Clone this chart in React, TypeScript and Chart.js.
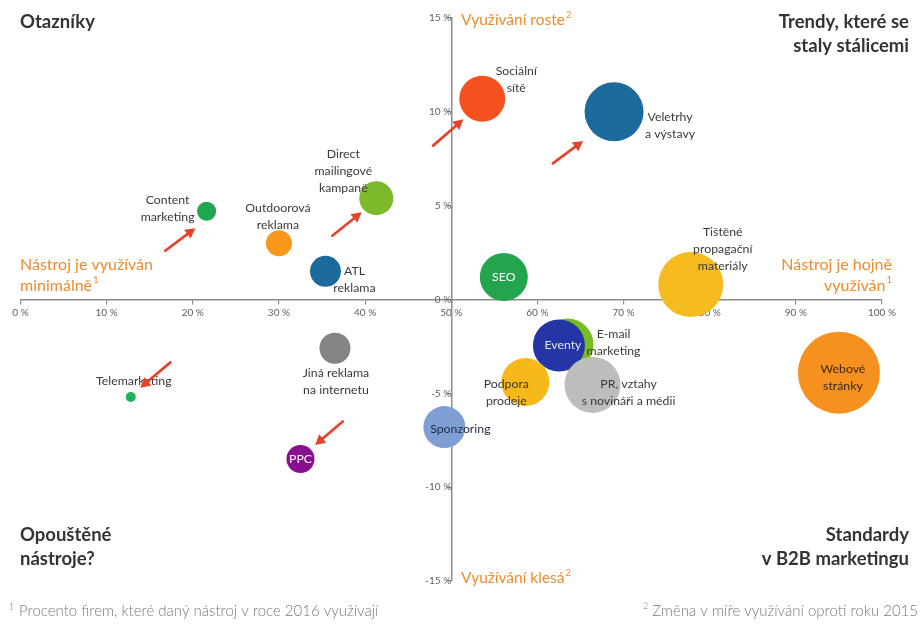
import React, { useEffect, useRef } from 'react';
import { Chart, registerables } from 'chart.js';

Chart.register(...registerables);

// ---- data ----
const toolNames = [
  'Sociální\nsítě',
  'Veletrhy\na výstavy',
  'SEO',
  'Tištěné\npropagační\nmateriály',
  'Content\nmarketing',
  'Outdoorová\nreklama',
  'Direct\nmailingové\nkampaně',
  'ATL\nreklama',
  'Jiná reklama\nna internetu',
  'Telemarketing',
  'PPC',
  'Sponzoring',
  'E-mail\nmarketing',
  'Eventy',
  'Podpora\nprodeje',
  'PR, vztahy\ns novináři a médii',
  'Webové\nstránky',
];
// % of firms using the tool in 2016
const usage2016 = [53.6, 68.9, 56.1, 77.8, 21.6, 30.0, 41.3, 35.4, 36.5, 12.8, 32.5, 49.2, 63.5, 62.5, 58.6, 66.4, 95.0];
// change vs. 2015 (percentage points)
const changeVs2015 = [10.7, 10.0, 1.2, 0.8, 4.7, 3.0, 5.4, 1.5, -2.6, -5.2, -8.5, -6.8, -2.4, -2.45, -4.4, -4.55, -3.9];
// bubble size
const bubbleSize = [23, 29.5, 24, 32.5, 9.5, 13, 17, 15.5, 15.5, 5, 14, 21, 26, 26, 24, 28, 41];

const bubbleColors = [
  '#f4511e', '#1c6a9c', '#25a44e', '#f6bb1f', '#1fa84f', '#f7981d', '#7dba2b', '#1c6a9c',
  '#848484', '#1fb25a', '#8a0f8e', '#7f9ed3', '#78bc22', '#2535a5', '#f7b81b', '#bdbdbd', '#f6901f',
];
const labelColors = [
  '#3a3a3a', '#3a3a3a', '#ffffff', '#3a3a3a', '#3a3a3a', '#3a3a3a', '#3a3a3a', '#3a3a3a',
  '#3a3a3a', '#3a3a3a', '#ffffff', '#1e2a4a', '#3a3a3a', '#dfe2f5', '#3a3a3a', '#3a3a3a', '#3a2a1a',
];
// label offsets from bubble centre (px)
const labelDx = [34, 56, 0, 32, -39, -1, -33, 29, 1, 3, 0, 16, 46, 4, -19, 36, 4];
const labelDy = [-19, 14, 0, -35, -3, -27, -27, 8, 33, -16, 0, 2, -2, 0, 10, 8, 5];

// trend arrows (data units)
const arrowFromX = [16.8, 36.2, 47.9, 61.8, 17.4, 37.4];
const arrowFromY = [2.6, 3.4, 8.2, 7.25, -3.35, -6.5];
const arrowToX = [20.3, 39.6, 51.4, 65.3, 13.9, 34.2];
const arrowToY = [3.8, 4.65, 9.6, 8.45, -4.7, -7.75];

const FONT = 'Lato, "Open Sans", sans-serif';
const ORANGE = '#ef8b2c';
const DARK = '#333333';

function textWithSup(ctx: CanvasRenderingContext2D, text: string, sup: string, x: number, y: number, align: 'left' | 'right', size: number, weight: string) {
  ctx.font = `${weight} ${size}px ${FONT}`;
  const w = ctx.measureText(text).width;
  ctx.font = `${weight} ${size * 0.6}px ${FONT}`;
  const ws = sup ? ctx.measureText(sup).width + 1 : 0;
  const start = align === 'left' ? x : x - w - ws;
  ctx.textAlign = 'left';
  ctx.textBaseline = 'middle';
  ctx.font = `${weight} ${size}px ${FONT}`;
  ctx.fillText(text, start, y);
  if (sup) {
    ctx.font = `${weight} ${size * 0.6}px ${FONT}`;
    ctx.fillText(sup, start + w + 1, y - size * 0.35);
  }
}

const overlayPlugin = {
  id: 'overlay',
  afterDatasetsDraw(chart: any) {
    const ctx: CanvasRenderingContext2D = chart.ctx;
    const xs = chart.scales.x;
    const ys = chart.scales.y;
    ctx.save();
    // bubble labels
    toolNames.forEach((name, i) => {
      const cx = xs.getPixelForValue(usage2016[i]) + labelDx[i];
      const cy = ys.getPixelForValue(changeVs2015[i]) + labelDy[i];
      const lines = name.split('\n');
      ctx.font = `12.3px ${FONT}`;
      ctx.fillStyle = labelColors[i];
      ctx.textAlign = 'center';
      ctx.textBaseline = 'middle';
      const lh = 17;
      lines.forEach((ln, k) => ctx.fillText(ln, cx, cy + (k - (lines.length - 1) / 2) * lh));
    });
    // arrows
    ctx.strokeStyle = '#e2452b';
    ctx.fillStyle = '#e2452b';
    ctx.lineWidth = 2.7;
    ctx.lineCap = 'round';
    arrowFromX.forEach((_, i) => {
      const x1 = xs.getPixelForValue(arrowFromX[i]);
      const y1 = ys.getPixelForValue(arrowFromY[i]);
      const x2 = xs.getPixelForValue(arrowToX[i]);
      const y2 = ys.getPixelForValue(arrowToY[i]);
      const a = Math.atan2(y2 - y1, x2 - x1);
      const hl = 10;
      const hw = 5.5;
      const bx = x2 - hl * Math.cos(a);
      const by = y2 - hl * Math.sin(a);
      ctx.beginPath();
      ctx.moveTo(x1, y1);
      ctx.lineTo(bx, by);
      ctx.stroke();
      ctx.beginPath();
      ctx.moveTo(x2, y2);
      ctx.lineTo(bx + hw * Math.sin(a), by - hw * Math.cos(a));
      ctx.lineTo(bx - hw * Math.sin(a), by + hw * Math.cos(a));
      ctx.closePath();
      ctx.fill();
    });
    ctx.restore();
  },
  afterDraw(chart: any) {
    const ctx: CanvasRenderingContext2D = chart.ctx;
    const W = chart.width;
    ctx.save();
    // quadrant titles
    ctx.fillStyle = DARK;
    textWithSup(ctx, 'Otazníky', '', 20, 22, 'left', 18.5, 'bold');
    textWithSup(ctx, 'Trendy, které se', '', W - 11, 22, 'right', 18.5, 'bold');
    textWithSup(ctx, 'staly stálicemi', '', W - 11, 46, 'right', 18.5, 'bold');
    textWithSup(ctx, 'Opouštěné', '', 20, 535, 'left', 18.5, 'bold');
    textWithSup(ctx, 'nástroje?', '', 20, 559, 'left', 18.5, 'bold');
    textWithSup(ctx, 'Standardy', '', W - 11, 535, 'right', 18.5, 'bold');
    textWithSup(ctx, 'v B2B marketingu', '', W - 11, 559, 'right', 18.5, 'bold');
    // orange axis notes
    ctx.fillStyle = ORANGE;
    textWithSup(ctx, 'Nástroj je využíván', '', 20, 265, 'left', 16, 'normal');
    textWithSup(ctx, 'minimálně', '1', 20, 286, 'left', 16, 'normal');
    textWithSup(ctx, 'Nástroj je hojně', '', 892, 265, 'right', 16, 'normal');
    textWithSup(ctx, 'využíván', '1', 892, 286, 'right', 16, 'normal');
    textWithSup(ctx, 'Využívání roste', '2', 461, 20, 'left', 15.5, 'normal');
    textWithSup(ctx, 'Využívání klesá', '2', 461, 578, 'left', 15.5, 'normal');
    // footnotes
    ctx.fillStyle = '#7a7a7a';
    textWithSup(ctx, '', '1', 8, 612, 'left', 14.5, '300');
    textWithSup(ctx, 'Procento firem, které daný nástroj v roce 2016 využívají', '', 19, 611, 'left', 15, '300');
    textWithSup(ctx, 'Změna v míře využívání oproti roku 2015', '', 918, 611, 'right', 15, '300');
    ctx.font = `300 15px ${FONT}`;
    const wFoot = ctx.measureText('Změna v míře využívání oproti roku 2015').width;
    ctx.font = `300 9px ${FONT}`;
    ctx.textAlign = 'right';
    ctx.textBaseline = 'middle';
    ctx.fillText('2', 918 - wFoot - 4, 606);
    ctx.restore();
  },
};

export default function App() {
  const canvasRef = useRef<HTMLCanvasElement | null>(null);

  useEffect(() => {
    if (!canvasRef.current) return;
    const axisColor = '#8c8c8c';
    const chart = new Chart(canvasRef.current, {
      type: 'bubble',
      data: {
        datasets: [
          {
            label: 'Nástroje',
            data: usage2016.map((x, i) => ({ x, y: changeVs2015[i], r: bubbleSize[i] })),
            backgroundColor: bubbleColors,
            borderWidth: 0,
            hoverBorderWidth: 0,
            clip: false as any,
          },
        ],
      },
      options: {
        animation: false,
        responsive: false,
        events: [],
        layout: { autoPadding: false, padding: { left: 20.5, right: 38, top: 18, bottom: 43 } },
        plugins: {
          legend: { display: false },
          tooltip: { enabled: false },
        },
        scales: {
          x: {
            type: 'linear',
            min: 0,
            max: 100,
            position: { y: 0 } as any,
            ticks: {
              stepSize: 10,
              padding: 3,
              color: '#5e5e5e',
              font: { family: FONT, size: 10 },
              callback: (v: any) => `${v} %`,
            },
            grid: { display: true, drawOnChartArea: false, drawTicks: true, tickLength: 4, color: axisColor, lineWidth: 1.2 },
            border: { display: true, color: axisColor, width: 1.5 },
          },
          y: {
            type: 'linear',
            min: -15,
            max: 15,
            position: { x: 50 } as any,
            ticks: {
              stepSize: 5,
              padding: 3,
              color: '#5e5e5e',
              font: { family: FONT, size: 10 },
              callback: (v: any) => `${v} %`,
            },
            grid: { display: true, drawOnChartArea: false, drawTicks: true, tickLength: 4, color: axisColor, lineWidth: 1.2 },
            border: { display: true, color: axisColor, width: 1.5 },
          },
        },
      },
      plugins: [overlayPlugin],
    });
    return () => chart.destroy();
  }, []);

  return (
    <div style={{ position: 'fixed', left: 0, top: 0, width: 920, height: 624, background: '#fff' }}>
      <canvas ref={canvasRef} width={920} height={624} style={{ width: 920, height: 624, display: 'block' }} />
    </div>
  );
}
